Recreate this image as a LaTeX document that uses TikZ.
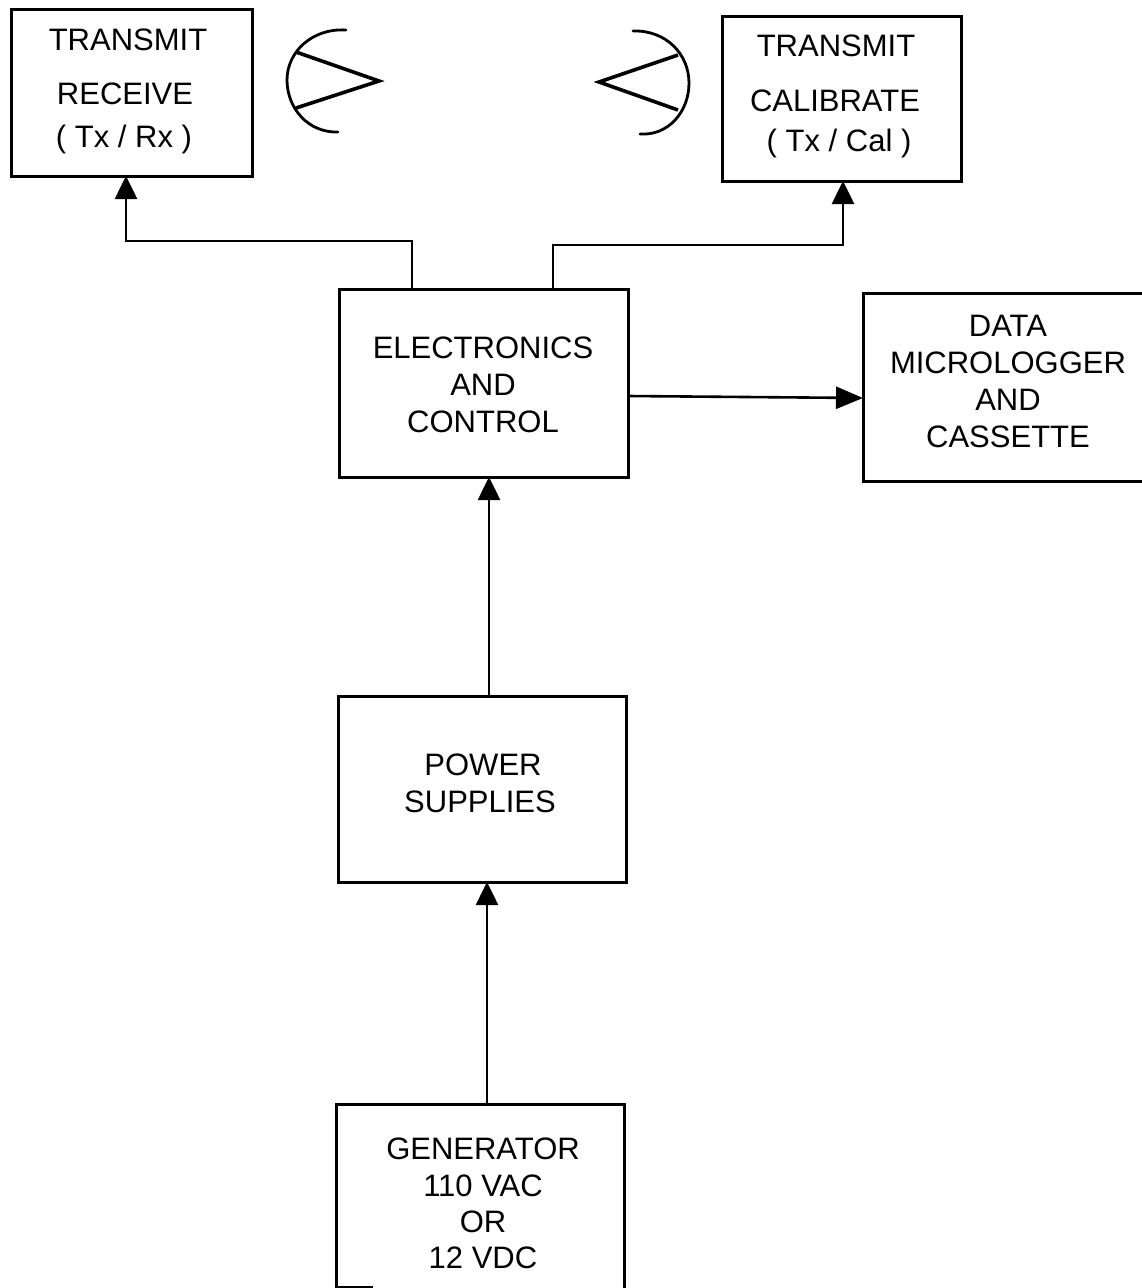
\documentclass[tikz,border=0pt]{standalone}
\usepackage{fontspec}
\setmainfont{Liberation Sans}
\usetikzlibrary{arrows.meta}
\tikzset{
  blockbox/.style={draw=black,line width=3pt,rectangle,inner sep=0pt,outer sep=0pt,anchor=north west},
  lbl/.style={anchor=base,inner sep=0pt,font=\fontsize{31pt}{31pt}\selectfont,text=black},
  conn/.style={draw=black,line width=2.6pt,-{Triangle[length=23pt,width=22pt]}},
  dish/.style={draw=black,line width=2.8pt,line cap=round},
  feed/.style={draw=black,line width=3.6pt,line join=miter},
}
\begin{document}
\begin{tikzpicture}[x=1pt,y=-1pt]
\useasboundingbox (0,0) rectangle (1142,1288);
\fill[white] (0,0) rectangle (1142,1288);
% boxes
\node[blockbox,minimum width=241pt,minimum height=167pt] (txrx) at (11,9) {};
\node[blockbox,minimum width=239pt,minimum height=165pt] (txcal) at (722,16) {};
\node[blockbox,minimum width=289pt,minimum height=188pt] (elec) at (339,289) {};
\node[blockbox,minimum width=285pt,minimum height=188pt] (data) at (863,293) {};
\node[blockbox,minimum width=288pt,minimum height=186pt] (power) at (338,696) {};
\node[anchor=north west,inner sep=0pt,outer sep=0pt,minimum width=288pt,minimum height=184pt] (gen) at (336,1104) {};
\draw[line width=3pt] (gen.south west) |- (gen.north east) -- (gen.south east);
\coordinate (genstubA) at (336,1287);
\coordinate (genstubB) at (373,1287);
\draw[line width=1.6pt] (genstubA) -- (genstubB);
% labels
\node[lbl] (l1) at (128,50) {TRANSMIT};
\node[lbl] (l2) at (125,104) {RECEIVE};
\node[lbl] (l3) at (124,147) {( Tx / Rx )};
\node[lbl] (l4) at (836,56) {TRANSMIT};
\node[lbl] (l5) at (835,111) {CALIBRATE};
\node[lbl] (l6) at (839,151) {( Tx / Cal )};
\node[lbl] (l7) at (483,358) {ELECTRONICS};
\node[lbl] (l8) at (483,395) {AND};
\node[lbl] (l9) at (483,432) {CONTROL};
\node[lbl] (l10) at (1008,336) {DATA};
\node[lbl] (l11) at (1008,373) {MICROLOGGER};
\node[lbl] (l12) at (1008,410) {AND};
\node[lbl] (l13) at (1008,447) {CASSETTE};
\node[lbl] (l14) at (483,775) {POWER};
\node[lbl] (l15) at (480,812) {SUPPLIES};
\node[lbl] (l16) at (483,1159) {GENERATOR};
\node[lbl] (l17) at (483,1196) {110 VAC};
\node[lbl] (l18) at (483,1232) {OR};
\node[lbl] (l19) at (483,1268) {12 VDC};
% connectors
\draw[conn] ([xshift=73pt]elec.north west) |- ++(-286,-48) -- ([xshift=115pt]txrx.south west);
\draw[conn] ([xshift=214pt]elec.north west) |- ++(290,-44) -- ([xshift=121pt]txcal.south west);
\draw[conn,-{Triangle[length=27pt,width=22pt]}] ([yshift=81pt]elec.south east) -- ([yshift=83pt]data.south west);
\draw[conn] ([xshift=151pt]power.north west) -- ([xshift=150pt]elec.south west);
\draw[conn] ([xshift=151pt]gen.north west) -- ([xshift=149pt]power.south west);
% antennas
\draw[dish] (346,30) .. controls (312,28) and (287,52) .. (287,80) .. controls (287,108) and (308,133) .. (338,132);
\draw[feed] (296,52) -- (379,81) -- (296,108);
\draw[dish] (633,31) .. controls (666,30) and (689,54) .. (689,83) .. controls (689,112) and (668,136) .. (640,134);
\draw[feed] (678,55) -- (599,82) -- (678,110);
\end{tikzpicture}
\end{document}
